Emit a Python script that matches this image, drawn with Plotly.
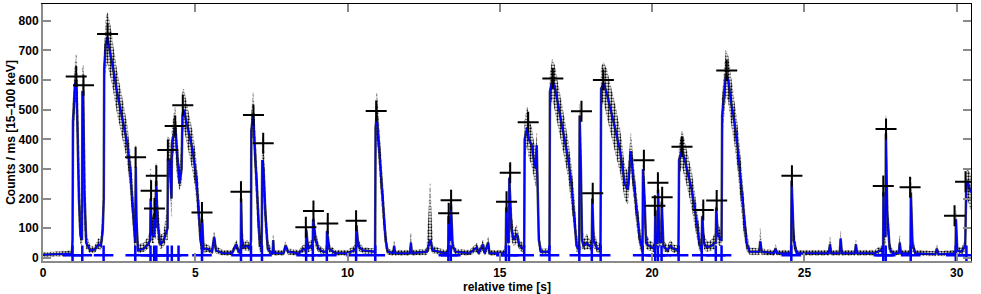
import plotly.graph_objects as go

# ---------------- data ----------------
# model light curve vertices: time [s]
t_model = [
    0.00, 0.50, 0.95,
    0.97, 0.985, 1.05, 1.09, 1.13, 1.18, 1.23, 1.28,
    1.295, 1.32, 1.36, 1.42, 1.55, 1.70, 1.82, 1.90, 1.96, 1.995,
    2.01, 2.06, 2.11, 2.20, 2.30, 2.43, 2.60, 2.76, 2.85, 2.93, 3.00, 3.03,
    3.045, 3.07, 3.12, 3.30, 3.45, 3.52,
    3.535, 3.57, 3.645, 3.655, 3.70, 3.715, 3.76, 3.85, 3.95, 4.05, 4.09,
    4.10, 4.16, 4.22, 4.235, 4.34, 4.40, 4.48, 4.55, 4.58, 4.62, 4.75, 4.90, 5.00, 5.10, 5.17, 5.215,
    5.225, 5.27, 5.40, 5.55, 5.62, 5.68, 5.90, 6.20, 6.35, 6.42, 6.495,
    6.505, 6.53, 6.60, 6.70, 6.80, 6.83, 6.84, 6.90, 6.96, 7.05, 7.12, 7.18, 7.20, 7.24, 7.30, 7.38, 7.50,
    7.54, 7.56, 7.58, 7.90, 7.96, 8.05, 8.40, 8.55, 8.635,
    8.645, 8.70, 8.80, 8.855, 8.87, 8.95, 9.05, 9.20, 9.315, 9.325, 9.40, 9.60, 10.00, 10.20, 10.275, 10.29, 10.35, 10.50, 10.80, 10.905,
    10.92, 10.96, 11.05, 11.15, 11.25, 11.32,
    11.50, 11.53, 11.56, 12.05, 12.08, 12.11, 12.60, 12.71, 12.80, 13.20, 13.305,
    13.315, 13.35, 13.385, 13.395, 13.45, 13.55,
    14.00, 14.25, 14.30, 14.45, 14.50, 14.62, 14.66, 15.10, 15.195,
    15.21, 15.26, 15.295, 15.31, 15.38, 15.45, 15.55, 15.65, 15.78, 15.80,
    15.815, 15.90, 15.95, 16.05, 16.10, 16.18, 16.21, 16.28, 16.35, 16.60, 16.63,
    16.645, 16.72, 16.80, 16.95, 17.10, 17.25, 17.35, 17.45, 17.52, 17.605,
    17.62, 17.66, 17.70, 17.75, 17.85, 17.95, 18.02, 18.035, 18.08, 18.20, 18.305,
    18.325, 18.40, 18.50, 18.65, 18.80, 18.95, 19.05, 19.10, 19.20, 19.30, 19.40, 19.50, 19.60, 19.685,
    19.70, 19.75, 19.80, 19.90, 20.09, 20.105, 20.14, 20.185, 20.195, 20.24, 20.305, 20.315, 20.37, 20.50, 20.60, 20.70, 20.865,
    20.885, 20.98, 21.05, 21.15, 21.30, 21.45, 21.55, 21.625,
    21.645, 21.70, 21.80, 21.95, 22.05, 22.09, 22.105, 22.15, 22.25, 22.28,
    22.30, 22.37, 22.42, 22.50, 22.60, 22.70, 22.80, 22.90, 23.00, 23.10, 23.20,
    23.52, 23.55, 23.60, 24.00, 24.05, 24.10, 24.565,
    24.58, 24.65, 24.75,
    25.80, 25.84, 25.88, 26.16, 26.19, 26.23, 26.66, 26.69, 26.73, 27.30, 27.50, 27.585,
    27.595, 27.63, 27.665, 27.675, 27.72, 27.80, 27.90,
    28.10, 28.13, 28.17, 28.485, 28.495, 28.55, 28.65,
    29.30, 29.35, 29.40, 29.965, 29.975, 30.02, 30.15, 30.28,
    30.31, 30.35, 30.40, 30.47,
]

# model counts / ms at those times (blue line)
y_model = [
    10, 12, 14,
    60, 460, 585, 600, 450, 200, 75, 60,
    560, 560, 220, 50, 25, 28, 45, 40, 90, 200,
    640, 720, 745, 700, 640, 560, 470, 390, 310, 200, 80, 50,
    307, 120, 25, 30, 45, 60,
    200, 80, 70, 150, 100, 260, 120, 45, 55, 90, 100,
    330, 330, 200, 390, 440, 350, 250, 300, 480, 500, 440, 370, 300, 180, 60, 40,
    130, 30, 30, 20, 70, 25, 15, 15, 45, 20, 20,
    200, 60, 35, 40, 30, 60, 430, 480, 350, 150, 40, 40, 330, 300, 150, 30, 15,
    15, 60, 15, 15, 40, 20, 15, 30, 25,
    95, 30, 40, 40, 130, 60, 30, 20, 20, 90, 30, 15, 15, 25, 30, 110, 40, 25, 20, 20,
    440, 480, 350, 200, 60, 20,
    15, 40, 15, 15, 50, 15, 20, 60, 25, 15, 20,
    140, 60, 60, 180, 40, 20,
    15, 35, 15, 45, 15, 50, 15, 15, 20,
    170, 60, 50, 270, 100, 60, 80, 40, 30, 40,
    400, 440, 400, 380, 340, 300, 380, 60, 20, 20, 30,
    560, 600, 580, 500, 420, 330, 250, 140, 40, 25,
    480, 300, 60, 40, 50, 40, 40, 200, 60, 30, 30,
    570, 590, 560, 500, 430, 360, 290, 250, 230, 360, 250, 150, 60, 25,
    300, 200, 50, 40, 30, 160, 50, 50, 230, 60, 50, 190, 40, 25, 40, 30, 25,
    330, 365, 340, 300, 230, 130, 50, 25,
    140, 50, 35, 40, 50, 50, 170, 80, 60, 60,
    480, 560, 620, 600, 520, 460, 380, 270, 150, 50, 20,
    20, 55, 20, 15, 30, 15, 15,
    260, 60, 15,
    15, 45, 15, 15, 65, 15, 15, 45, 15, 15, 25, 25,
    220, 80, 70, 420, 150, 30, 15,
    15, 50, 15, 15, 220, 40, 15,
    12, 30, 12, 15, 130, 25, 20, 40,
    220, 260, 240, 220,
]

# measured counts: lower edge of the black point cloud
data_lo = [
    3, 5, 6,
    20, 380, 520, 540, 380, 120, 50, 40,
    500, 480, 100, 30, 15, 18, 30, 25, 60, 150,
    600, 640, 660, 620, 570, 490, 410, 330, 250, 140, 40, 30,
    200, 60, 15, 20, 30, 40,
    120, 50, 50, 90, 60, 180, 60, 30, 35, 60, 60,
    280, 270, 140, 330, 380, 280, 230, 250, 420, 440, 370, 300, 240, 120, 30, 20,
    80, 15, 20, 12, 40, 15, 8, 8, 30, 12, 10,
    150, 30, 25, 25, 20, 40, 380, 420, 280, 100, 20, 20, 280, 240, 90, 15, 8,
    8, 30, 8, 8, 25, 10, 8, 18, 15,
    60, 18, 25, 25, 90, 35, 18, 10, 10, 60, 18, 8, 8, 15, 18, 70, 25, 15, 10, 10,
    380, 420, 290, 140, 30, 10,
    8, 25, 8, 8, 30, 8, 10, 30, 15, 8, 10,
    100, 35, 35, 130, 25, 10,
    8, 20, 8, 25, 8, 25, 8, 8, 10,
    120, 35, 30, 200, 60, 40, 50, 25, 18, 25,
    340, 380, 340, 310, 280, 240, 300, 30, 10, 10, 15,
    500, 540, 510, 430, 350, 270, 190, 90, 20, 12,
    420, 200, 30, 25, 30, 25, 25, 150, 35, 18, 18,
    510, 530, 480, 420, 350, 290, 230, 200, 180, 300, 200, 100, 30, 12,
    240, 130, 30, 25, 18, 110, 30, 30, 180, 35, 30, 140, 25, 15, 25, 18, 12,
    280, 310, 280, 240, 170, 80, 25, 12,
    100, 30, 20, 25, 30, 30, 120, 50, 35, 35,
    420, 490, 550, 530, 450, 390, 310, 200, 90, 25, 10,
    10, 30, 10, 8, 18, 8, 8,
    200, 30, 8,
    8, 25, 8, 8, 35, 8, 8, 25, 8, 8, 12, 12,
    160, 45, 40, 360, 90, 18, 8,
    8, 30, 8, 8, 170, 20, 8,
    6, 18, 6, 8, 90, 12, 10, 20,
    160, 200, 180, 160,
]

# measured counts: upper edge of the black point cloud
data_hi = [
    18, 20, 24,
    100, 520, 650, 690, 600, 300, 110, 90,
    640, 650, 350, 80, 40, 40, 65, 60, 150, 280,
    700, 800, 830, 790, 720, 630, 540, 450, 370, 270, 150, 80,
    380, 200, 45, 50, 70, 90,
    300, 150, 120, 220, 160, 320, 200, 80, 80, 150, 170,
    410, 400, 280, 440, 510, 430, 300, 380, 560, 570, 510, 430, 360, 250, 110, 70,
    160, 50, 45, 32, 90, 40, 25, 25, 60, 30, 30,
    260, 100, 50, 60, 45, 90, 480, 560, 450, 250, 80, 70, 400, 420, 220, 60, 25,
    25, 80, 25, 25, 55, 30, 25, 45, 40,
    110, 50, 60, 60, 170, 90, 45, 30, 30, 130, 45, 25, 25, 40, 45, 140, 60, 35, 30, 30,
    500, 560, 420, 260, 100, 30,
    25, 60, 25, 25, 85, 25, 30, 250, 40, 25, 30,
    180, 90, 90, 230, 60, 30,
    25, 50, 25, 60, 25, 70, 25, 25, 30,
    220, 100, 80, 320, 150, 90, 110, 60, 45, 60,
    460, 510, 470, 440, 400, 360, 420, 100, 30, 30, 45,
    620, 670, 650, 570, 480, 390, 310, 200, 80, 40,
    520, 400, 100, 60, 80, 60, 60, 240, 90, 50, 50,
    640, 660, 640, 580, 510, 430, 350, 310, 290, 420, 310, 200, 100, 40,
    340, 270, 80, 60, 45, 190, 80, 80, 280, 90, 80, 220, 60, 40, 60, 45, 40,
    380, 430, 400, 360, 290, 180, 90, 40,
    180, 80, 55, 60, 80, 80, 210, 120, 90, 90,
    540, 630, 700, 680, 600, 530, 450, 340, 220, 90, 35,
    30, 100, 30, 25, 45, 25, 25,
    300, 100, 25,
    25, 70, 25, 25, 90, 25, 25, 60, 25, 25, 40, 40,
    260, 130, 120, 480, 220, 50, 25,
    25, 75, 25, 25, 270, 70, 25,
    22, 45, 22, 25, 160, 40, 32, 60,
    280, 300, 290, 280,
]

# pulse peaks (black +)
peak_t = [1.09, 1.33, 2.12, 3.04, 3.55, 3.66, 3.72, 4.10, 4.34, 4.59,
          5.22, 6.50, 6.91, 7.23, 8.63, 8.88, 9.35, 10.28, 10.94, 13.32,
          13.40, 15.22, 15.34, 15.93, 16.74, 17.68, 18.05, 18.40, 19.73, 20.09,
          20.19, 20.33, 20.98, 21.68, 22.12, 22.45, 24.59, 27.59, 27.68, 28.47,
          29.93, 30.29]
peak_y = [612, 583, 756, 339, 226, 166, 277, 364, 445, 515,
          153, 223, 482, 387, 103, 158, 116, 125, 496, 150,
          194, 189, 287, 458, 605, 495, 218, 600, 329, 176,
          253, 204, 375, 161, 193, 632, 277, 242, 435, 238,
          142, 257]

# pulse start times (blue + at the background level)
start_t = [0.97, 1.29, 1.99, 3.03, 3.53, 3.65, 3.72, 4.09, 4.23, 4.45,
           5.22, 6.50, 6.83, 7.19, 8.64, 8.86, 9.32, 10.28, 10.91, 13.31,
           13.39, 15.20, 15.30, 15.80, 16.63, 17.61, 18.02, 18.31, 19.69, 20.10,
           20.19, 20.31, 20.87, 21.63, 22.09, 22.28, 24.57, 27.59, 27.67, 28.49,
           29.97, 30.32]
start_level = 8

x_ticks = [0, 5, 10, 15, 20, 25, 30]
y_ticks = [0, 100, 200, 300, 400, 500, 600, 700, 800]

assert len(t_model) == len(y_model) == len(data_lo) == len(data_hi)
assert len(peak_t) == len(peak_y)

# ---------------- figure ----------------
FONT = "Liberation Sans"
GRAY = "#8a8a8a"

fig = go.Figure()

# black point cloud (measured counts) as a dotted band
fig.add_trace(go.Scatter(
    x=t_model + t_model[::-1],
    y=data_hi + data_lo[::-1],
    mode="lines", fill="toself",
    line=dict(width=0.7, color="rgba(0,0,0,0.35)", dash="dot"),
    fillcolor="rgba(0,0,0,0)",
    fillpattern=dict(shape=".", fgcolor="black", bgcolor="rgba(0,0,0,0)",
                     fgopacity=1, size=3, solidity=0.45, fillmode="overlay"),
    hoverinfo="skip", showlegend=False,
))

# dense measured points hugging the model
fig.add_trace(go.Scatter(
    x=t_model, y=y_model, mode="lines",
    line=dict(color="rgba(0,0,0,0.7)", width=2.6),
    hoverinfo="skip", showlegend=False,
))

# model (blue line)
fig.add_trace(go.Scatter(
    x=t_model, y=y_model, mode="lines",
    line=dict(color="#0000ff", width=1.5),
    showlegend=False,
))

# pulse start markers
fig.add_trace(go.Scatter(
    x=start_t, y=[start_level] * len(start_t), mode="markers",
    marker=dict(symbol="cross-thin", size=14,
                line=dict(color="#0000ff", width=2.5)),
    showlegend=False,
))

# peak markers
fig.add_trace(go.Scatter(
    x=peak_t, y=peak_y, mode="markers",
    marker=dict(symbol="cross-thin", size=15,
                line=dict(color="black", width=2)),
    showlegend=False,
))

# dummy trace for the mirrored (top/right) axes
fig.add_trace(go.Scatter(x=[None], y=[None], xaxis="x2", yaxis="y2",
                         showlegend=False, hoverinfo="skip"))

xr = [0, 30.47]
yr = [-11, 857]
tickfont = dict(family=FONT, size=12, color="black", weight="bold")

fig.update_layout(
    width=981, height=294,
    margin=dict(l=43, r=10, t=4, b=33, autoexpand=False),
    paper_bgcolor="white", plot_bgcolor="white",
    font=dict(family=FONT, color="black"),
    showlegend=False,
    xaxis=dict(
        range=xr, tickvals=x_ticks, ticks="inside", ticklen=8,
        tickcolor=GRAY, tickwidth=1.5, automargin=False,
        showline=True, linecolor=GRAY, linewidth=2,
        showgrid=False, zeroline=False, tickfont=tickfont,
        title=dict(text="relative time [s]",
                   font=dict(family=FONT, size=12, color="black", weight="bold"),
                   standoff=0),
    ),
    yaxis=dict(
        range=yr, tickvals=y_ticks, ticks="inside", ticklen=8,
        tickcolor=GRAY, tickwidth=1.5, automargin=False,
        showline=True, linecolor=GRAY, linewidth=2,
        showgrid=False, zeroline=False, tickfont=tickfont,
        title=dict(text="Counts / ms [15–100 keV]",
                   font=dict(family=FONT, size=12, color="black", weight="bold"),
                   standoff=0),
    ),
    xaxis2=dict(
        range=xr, overlaying="x", side="top", tickvals=x_ticks,
        ticks="inside", ticklen=8, tickcolor=GRAY, tickwidth=1.5,
        showticklabels=False, showline=True, linecolor="black", linewidth=1,
        showgrid=False, zeroline=False, automargin=False,
    ),
    yaxis2=dict(
        range=yr, overlaying="y", side="right", tickvals=y_ticks,
        ticks="inside", ticklen=8, tickcolor=GRAY, tickwidth=1.5,
        showticklabels=False, showline=True, linecolor="black", linewidth=1,
        showgrid=False, zeroline=False, automargin=False,
    ),
)

fig.write_html("out.html",
               config={"displayModeBar": False},
               post_script="document.body.style.margin='0';"
                           "document.body.style.padding='0';")
